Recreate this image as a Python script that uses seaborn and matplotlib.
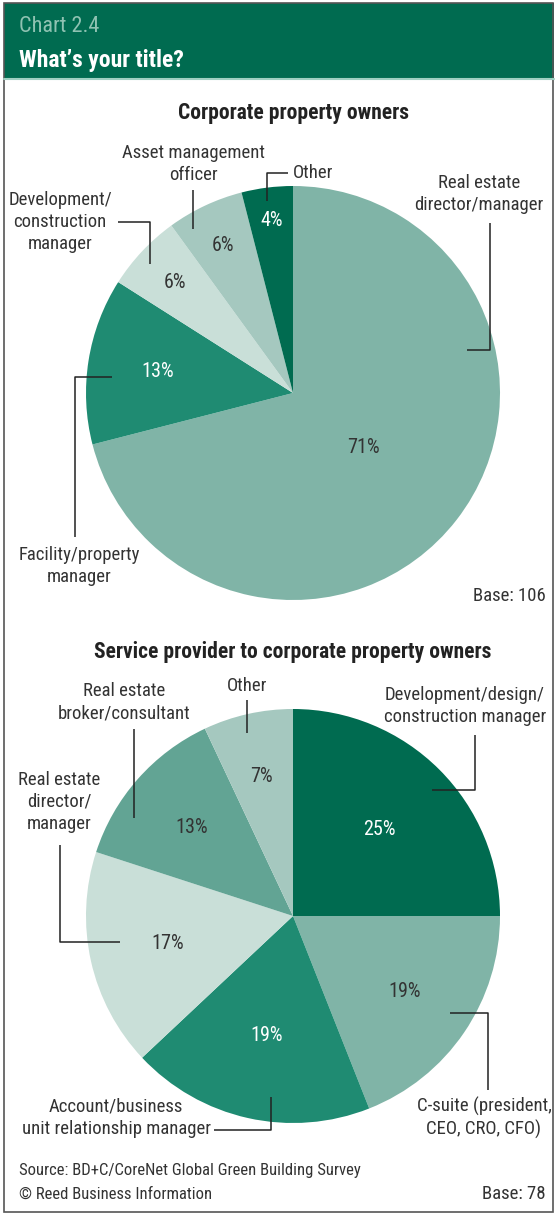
#!/usr/bin/env python3

import matplotlib
matplotlib.use('Agg')
import matplotlib.pyplot as plt
from matplotlib import font_manager
from matplotlib.patches import Rectangle
import numpy as np
import seaborn as sns


W, H = 558, 1217  # pixels

# --- data -------------------------------------------------------------
OWNER_LABELS = ['Real estate\ndirector/manager', 'Facility/property\nmanager',
                'Development/\nconstruction\nmanager', 'Asset management\nofficer',
                'Other']
OWNER_VALUES = [71, 13, 6, 6, 4]

SERVICE_LABELS = ['Development/design/\nconstruction manager',
                  'C-suite (president,\nCEO, CRO, CFO)',
                  'Account/business\nunit relationship manager',
                  'Real estate\ndirector/\nmanager',
                  'Real estate\nbroker/consultant',
                  'Other']
SERVICE_VALUES = [25, 19, 19, 17, 13, 7]

DARK = '#006b50'
MID = '#1f8b72'
BROKER = '#62a494'
LIGHTMID = '#80b4a7'
LIGHT = '#a5c8bf'
PALE = '#c9dfd8'

OWNER_COLORS = [LIGHTMID, MID, PALE, LIGHT, DARK]
SERVICE_COLORS = [DARK, LIGHTMID, MID, PALE, BROKER, LIGHT]

# --- layout (pixels) --------------------------------------------------
TEXT = '#333333'
FS = 13.5
PCT_FS = 14.5

# radius fraction of each percentage label
OWNER_PCT_R = [0.43, 0.66, 0.78, 0.79, 0.84]
SERVICE_PCT_R = [0.59, 0.65, 0.59, 0.62, 0.65, 0.69]

# label position (x, y, ha) and leader path for each slice
OWNER_LAYOUT = [
    ((479, 194, 'center'), [(490, 223), (490, 350), (467, 350)]),
    ((79, 566, 'center'), [(75, 537), (75, 377), (112, 377)]),
    ((60, 222, 'center'), [(118, 222), (150, 222), (150, 264)]),
    ((193, 164, 'center'), [(193, 190), (193, 229)]),
    ((293, 173, 'left'), [(288, 173), (267, 173), (267, 201)]),
]
SERVICE_LAYOUT = [
    ((465, 706, 'center'), [(475, 735), (475, 790), (432, 790)]),
    ((484, 1118, 'center'), [(488, 1090), (488, 1013), (450, 1013)]),
    ((116, 1118, 'center'), [(214, 1130), (271, 1130), (271, 1097)]),
    ((59, 802, 'center'), [(60, 845), (60, 942), (120, 942)]),
    ((124, 702, 'center'), [(134, 729), (134, 818)]),
    ((247, 686, 'center'), [(247, 700), (247, 733)]),
]


def px_axes(fig, cx, cy, r):
    """Square axes in figure coords centred on pixel (cx, cy)."""
    return fig.add_axes([(cx - r) / W, 1 - (cy + r) / H, 2 * r / W, 2 * r / H])


def draw_pie(fig, over, center, values, colors, pct_r, labels, layout):
    cx, cy = center
    r = 207
    ax = px_axes(fig, cx, cy, r)
    wedges, _ = ax.pie(values, colors=colors, startangle=90, counterclock=False,
                       radius=1, wedgeprops=dict(linewidth=0))
    ax.set_xlim(-1, 1)
    ax.set_ylim(-1, 1)
    ax.set_aspect('equal')
    ax.axis('off')

    for w, v, pr, col in zip(wedges, values, pct_r, colors):
        mid = np.deg2rad((w.theta1 + w.theta2) / 2)
        tc = 'white' if col in (DARK, MID) else TEXT
        ax.text(pr * np.cos(mid), pr * np.sin(mid), f'{v}%', ha='center',
                va='center', fontsize=PCT_FS, color=tc)

    for lab, ((tx, ty, ha), path) in zip(labels, layout):
        over.text(tx, ty, lab, ha=ha, va='center', fontsize=FS, color=TEXT,
                  linespacing=1.3)
        xs, ys = zip(*path)
        over.plot(xs, ys, color='#222222', lw=1.1, solid_capstyle='butt')


def main():
    sns.set_theme(style='white')
    installed = {f.name for f in font_manager.fontManager.ttflist}
    fams = [f for f in ('Roboto Condensed', 'Liberation Sans Narrow', 'Roboto')
            if f in installed]
    plt.rcParams['font.family'] = fams + ['DejaVu Sans']

    fig = plt.figure(figsize=(W / 100, H / 100), dpi=100)
    fig.patch.set_facecolor('white')

    over = fig.add_axes([0, 0, 1, 1], zorder=5)
    over.set_xlim(0, W)
    over.set_ylim(H, 0)
    over.axis('off')

    # header band
    over.add_patch(Rectangle((4, 3), W - 8, 75, color=DARK, lw=0))
    over.plot([4, W - 4], [79, 79], color='#9fd0c2', lw=1.5)
    over.text(19, 27, 'Chart 2.4', fontsize=16, color='#8fc2b2', va='center')
    over.text(19, 60, 'What\u2019s your title?', fontsize=17, color='white',
              fontweight='bold', va='center')
    # frame
    over.add_patch(Rectangle((4, 3), W - 9, H - 8, fill=False,
                             ec='#555555', lw=1.2))

    over.text(293, 113, 'Corporate property owners', ha='center', va='center',
              fontsize=15.5, fontweight='bold', color='#222222')
    draw_pie(fig, over, (293, 393), OWNER_VALUES, OWNER_COLORS, OWNER_PCT_R,
             OWNER_LABELS, OWNER_LAYOUT)
    over.text(546, 596, 'Base: 106', ha='right', va='center', fontsize=FS,
              color=TEXT)

    over.text(293, 652, 'Service provider to corporate property owners',
              ha='center', va='center', fontsize=15.5, fontweight='bold',
              color='#222222')
    draw_pie(fig, over, (293, 916), SERVICE_VALUES, SERVICE_COLORS,
             SERVICE_PCT_R, SERVICE_LABELS, SERVICE_LAYOUT)

    over.text(19, 1170, 'Source: BD+C/CoreNet Global Green Building Survey',
              va='center', fontsize=12, color=TEXT)
    over.text(19, 1194, '\u00a9 Reed Business Information', va='center',
              fontsize=12, color=TEXT)
    over.text(546, 1194, 'Base: 78', ha='right', va='center', fontsize=FS,
              color=TEXT)

    fig.savefig('out.png', dpi=100)


if __name__ == '__main__':
    main()
